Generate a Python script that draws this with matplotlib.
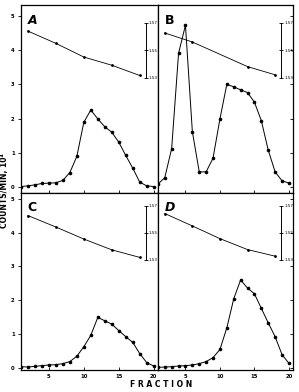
import matplotlib.pyplot as plt
import numpy as np

fractions = [1, 2, 3, 4, 5, 6, 7, 8, 9, 10, 11, 12, 13, 14, 15, 16, 17, 18, 19, 20]

counts_a = [0.01, 0.03, 0.06, 0.10, 0.11, 0.12, 0.19, 0.42, 0.89, 1.89,
            2.25, 1.99, 1.76, 1.60, 1.31, 0.92, 0.55, 0.14, 0.03, 0.01]
counts_b = [0.08, 0.27, 1.12, 3.91, 4.73, 1.62, 0.44, 0.44, 0.84, 1.99,
            3.00, 2.93, 2.84, 2.76, 2.48, 1.94, 1.08, 0.44, 0.18, 0.11]
counts_c = [0.03, 0.02, 0.04, 0.06, 0.08, 0.09, 0.12, 0.18, 0.34, 0.62,
            0.96, 1.49, 1.39, 1.29, 1.10, 0.92, 0.75, 0.42, 0.15, 0.05]
counts_d = [0.01, 0.02, 0.03, 0.05, 0.06, 0.08, 0.12, 0.18, 0.30, 0.54,
            1.18, 2.04, 2.60, 2.36, 2.19, 1.76, 1.33, 0.92, 0.39, 0.13]

dens_x_a = [2, 6, 10, 14, 18]
dens_a = [1.564, 1.555, 1.545, 1.539, 1.5315]
dens_x_b = [2, 6, 14, 18]
dens_b = [1.5626, 1.556, 1.538, 1.532]
dens_x_c = [2, 6, 10, 14, 18]
dens_c = [1.5627, 1.5542, 1.5453, 1.5373, 1.5317]
dens_x_d = [2, 6, 10, 14, 18]
dens_d = [1.5642, 1.555, 1.5456, 1.5375, 1.5326]

dens_ticks = [1.53, 1.55, 1.57]


def d2c(d):
    return 3.2 + (np.asarray(d) - 1.53) * 40.0


def c2d(c):
    return 1.53 + (np.asarray(c) - 3.2) / 40.0


fig = plt.figure(figsize=(2.99, 3.92), dpi=100)
L, M, R = 0.070, 0.528, 0.980
T, H, B = 0.987, 0.508, 0.056

panels = [
    ('A', counts_a, dens_x_a, dens_a, [L, H, M - L, T - H], (-0.175, 5.32), 'left', False),
    ('B', counts_b, dens_x_b, dens_b, [M, H, R - M, T - H], (-0.175, 5.32), 'right', False),
    ('C', counts_c, dens_x_c, dens_c, [L, B, M - L, H - B], (-0.07, 5.18), 'left', True),
    ('D', counts_d, dens_x_d, dens_d, [M, B, R - M, H - B], (-0.07, 5.18), 'right', True),
]

for letter, counts, dx, dens, rect, ylim, side, bottom in panels:
    ax = fig.add_axes(rect)
    ax.plot(fractions, counts, color='black', lw=0.7, marker='o', ms=1.6)
    ax.plot(dx, d2c(dens), color='black', lw=0.6, marker='o', ms=1.0)
    ax.set_xlim(1, 20.6)
    ax.set_ylim(*ylim)
    ax.set_xticks([5, 10, 15, 20])
    ax.set_yticks([0, 1, 2, 3, 4, 5])
    for s in ax.spines.values():
        s.set_linewidth(0.9)
    ax.tick_params(axis='x', direction='in', length=2, width=0.6,
                   labelsize=3.8, labelbottom=bottom, pad=3)
    if side == 'left':
        ax.tick_params(axis='y', direction='out', length=2, width=0.6,
                       labelsize=3.8, pad=2.5)
    else:
        ax.tick_params(axis='y', direction='in', length=2.5, width=0.6,
                       left=False, labelleft=False, right=True)
    for lab in ax.get_xticklabels() + ax.get_yticklabels():
        lab.set_fontweight('bold')
    ax.text(0.05, 0.955, letter, transform=ax.transAxes, fontsize=9,
            fontweight='bold', va='top', ha='left',
            style='italic' if letter in 'AD' else 'normal')

    sec = ax.secondary_yaxis(0.91, functions=(c2d, d2c))
    sec.set_yticks(dens_ticks)
    sec.set_yticklabels(['1.53', '1.55', '1.57'])
    sec.tick_params(axis='y', direction='inout', length=3, width=0.6,
                    labelsize=3.0, pad=1)
    for name in ('left', 'right'):
        sec.spines[name].set_bounds(1.53, 1.57)
        sec.spines[name].set_linewidth(0.7)

fig.text(0.016, 0.515, 'COUNTS/MIN, 10⁴', rotation=90, fontsize=5.5,
         fontweight='bold', ha='center', va='center')
fig.text(0.54, 0.018, 'F R A C T I O N', fontsize=5.5, fontweight='bold',
         ha='center', va='center')

fig.savefig('out.png', dpi=100)
